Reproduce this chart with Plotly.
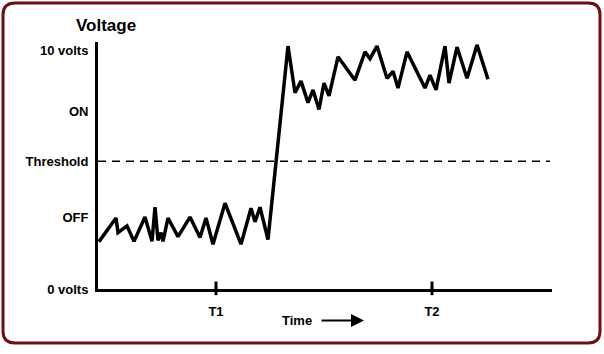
import plotly.graph_objects as go

# Data (time in arbitrary units, voltage in volts)
time = [1, 18, 20, 29, 36, 47, 54, 57, 60, 63, 65, 70, 80, 92, 102, 108, 115, 127, 143, 153, 157, 162, 170,
        190, 197, 203, 210, 215, 221, 226, 231, 240, 257, 267, 272, 279, 289, 295, 300, 309, 327, 332, 338,
        347, 351, 359, 369, 379, 390]
voltage = [2.0, 2.99, 2.38, 2.66, 2.01, 3.03, 2.01, 3.44, 2.05, 2.38, 2.01, 2.99, 2.21, 3.03, 2.17, 2.99,
           1.89, 3.61, 1.89, 3.40, 2.83, 3.44, 2.09,
           10.2, 8.24, 8.73, 7.83, 8.36, 7.54, 8.65, 8.11, 9.75, 8.77, 9.96, 9.67, 10.2, 8.85, 9.14, 8.44,
           9.96, 8.44, 8.98, 8.36, 10.2, 8.65, 10.16, 8.85, 10.25, 8.81]

y_tick_vals = [0, 3.0, 5.37, 7.46, 10]
y_tick_text = ["0 volts", "OFF", "Threshold", "ON", "10 volts"]
threshold = 5.37
x_tick_vals = [118, 334]
x_tick_text = ["T1", "T2"]
x_max = 454
y_max = 10.37

W, H = 604, 354
def px(x): return x / W
def py(y): return 1 - y / H

FONT = "Liberation Sans, Arial, sans-serif"

fig = go.Figure()
fig.add_trace(go.Scatter(x=time, y=voltage, mode="lines",
                         line=dict(color="black", width=3.5), hoverinfo="skip"))

shapes = []
# threshold dashed line
shapes.append(dict(type="line", xref="x", yref="y", x0=0, x1=452, y0=threshold, y1=threshold,
                   line=dict(color="black", width=1.5, dash="8px,6px")))
# tick marks crossing the x axis
for tv in x_tick_vals:
    shapes.append(dict(type="line", xref="x", yref="paper", x0=tv, x1=tv, y0=py(288), y1=py(302),
                       line=dict(color="black", width=3)))
# rounded border
x0, y0, x1, y1, r = px(3), py(3), px(600), py(351), 12
rx, ry = r / W, r / H
path = (f"M {x0+rx},{y0} L {x1-rx},{y0} Q {x1},{y0} {x1},{y0-ry} "
        f"L {x1},{y1+ry} Q {x1},{y1} {x1-rx},{y1} "
        f"L {x0+rx},{y1} Q {x0},{y1} {x0},{y1+ry} "
        f"L {x0},{y0-ry} Q {x0},{y0} {x0+rx},{y0} Z")
shapes.append(dict(type="path", xref="paper", yref="paper", path=path,
                   line=dict(color="#6e1010", width=3)))

annotations = [
    dict(text="<b>Voltage</b>", x=px(106), y=py(26), xref="paper", yref="paper", showarrow=False,
         font=dict(family=FONT, size=17, color="black"), xanchor="center", yanchor="middle"),
    dict(text="<b>Time</b>", x=px(297), y=py(328), xref="paper", yref="paper", showarrow=False,
         font=dict(family=FONT, size=13, color="black"), xanchor="center", yanchor="middle"),
    dict(text="", x=px(364), y=py(328), xref="paper", yref="paper", showarrow=True,
         ax=-44, ay=0, arrowhead=2, arrowsize=1.3, arrowwidth=2, arrowcolor="black"),
]

fig.update_layout(
    width=W, height=H, margin=dict(l=0, r=0, t=0, b=0),
    paper_bgcolor="white", plot_bgcolor="white", showlegend=False,
    shapes=shapes, annotations=annotations,
    xaxis=dict(domain=[px(98), px(552)], range=[0, x_max], showgrid=False, zeroline=False,
               showline=True, linecolor="black", linewidth=3, ticks="",
               tickvals=x_tick_vals, ticktext=[f"<b>{t}</b>" for t in x_tick_text],
               ticklabelstandoff=8, tickfont=dict(family=FONT, size=13, color="black")),
    yaxis=dict(domain=[py(296), py(43)], range=[0, y_max], showgrid=False, zeroline=False,
               showline=True, linecolor="black", linewidth=3, ticks="",
               tickvals=y_tick_vals, ticktext=[f"<b>{t}</b>" for t in y_tick_text],
               ticklabelstandoff=4, tickfont=dict(family=FONT, size=13, color="black")),
)

fig.write_html("out.html", config={"displayModeBar": False})
